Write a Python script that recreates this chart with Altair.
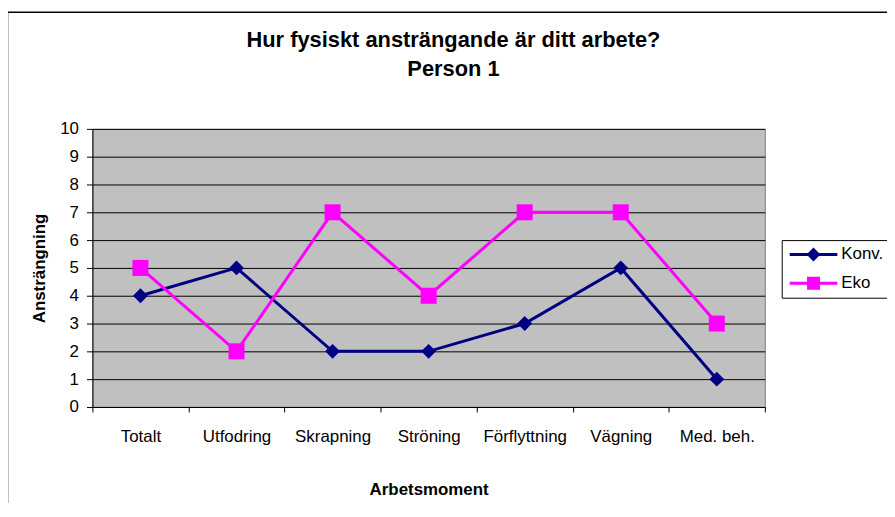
import altair as alt
import pandas as pd

categories = ["Totalt", "Utfodring", "Skrapning", "Ströning", "Förflyttning", "Vägning", "Med. beh."]
konv = [4, 5, 2, 2, 3, 5, 1]
eko = [5, 2, 7, 4, 7, 7, 3]
series = ["Konv.", "Eko"]
colors = ["#000080", "#FF00FF"]
marker_shapes = ["diamond", "square"]
marker_sizes = [225, 260]
y_ticks = list(range(0, 11))
title_lines = ["Hur fysiskt ansträngande är ditt arbete?", "Person 1"]

rows = []
for s, vals in zip(series, [konv, eko]):
    for c, v in zip(categories, vals):
        rows.append({"moment": c, "value": v, "series": s})
df = pd.DataFrame(rows)

FONT = "Liberation Sans"

# legend symbols: line with marker (custom SVG paths, unit = sqrt(size)/2)
konv_sym = "M-1,-0.23L6.385,-0.23L6.385,0.23L-1,0.23Z M2.692,-1.077L3.769,0L2.692,1.077L1.615,0Z"
eko_sym = "M-1,-0.23L6.385,-0.23L6.385,0.23L-1,0.23Z M1.692,-1L3.692,-1L3.692,1L1.692,1Z"

x_enc = alt.X(
    "moment:N",
    sort=categories,
    scale=alt.Scale(type="band", domain=categories, paddingInner=0, paddingOuter=0),
    axis=alt.Axis(
        title="Arbetsmoment", labelAngle=0, tickBand="extent", grid=False,
        labelFont=FONT, labelFontSize=17, labelColor="black", labelPadding=17,
        tickSize=5, tickColor="black", domainColor="black",
        titleFont=FONT, titleFontSize=17, titleFontWeight="bold", titleColor="black",
        titlePadding=37,
    ),
)
y_enc = alt.Y(
    "value:Q",
    scale=alt.Scale(domain=[0, 10], nice=False),
    axis=alt.Axis(
        title="Ansträngning", values=y_ticks, grid=True, gridColor="black", gridWidth=1,
        labelFont=FONT, labelFontSize=17, labelColor="black", labelPadding=8,
        tickSize=6, tickColor="black", domainColor="black",
        titleFont=FONT, titleFontSize=17, titleFontWeight="bold", titleColor="black",
        titlePadding=11,
    ),
)

border = alt.Chart(pd.DataFrame({"a": [0]})).mark_rect(
    filled=False, stroke="black", strokeWidth=1.5, fillOpacity=0
).encode(
    x=alt.value(-85.5), x2=alt.value(820), y=alt.value(-117.5), y2=alt.value(420)
)

base = alt.Chart(df)

series_layers = []
for s, shp, sz, col in zip(series, marker_shapes, marker_sizes, colors):
    sub = base.transform_filter(alt.datum.series == s)
    series_layers.append(sub.mark_line(strokeWidth=3, color=col).encode(x=x_enc, y=y_enc))
    series_layers.append(
        sub.mark_point(filled=True, opacity=1, shape=shp, size=sz, color=col).encode(x=x_enc, y=y_enc)
    )

legend_layer = base.transform_filter("false").mark_point(filled=True, opacity=1, size=169).encode(
    x=x_enc, y=y_enc,
    color=alt.Color("series:N", scale=alt.Scale(domain=series, range=colors),
                    legend=alt.Legend(title=None)),
    shape=alt.Shape("series:N", scale=alt.Scale(domain=series, range=[konv_sym, eko_sym]),
                    legend=alt.Legend(title=None)),
)

chart = alt.layer(border, *series_layers, legend_layer).properties(
    width=677,
    height=280,
    background="white",
    autosize=alt.AutoSizeParams(type="none"),
    padding={"left": 85, "top": 120, "right": 123, "bottom": 95},
    title=alt.TitleParams(
        text=title_lines, font=FONT, fontSize=22, fontWeight="bold", color="black",
        anchor="middle", frame="group", dx=25, offset=-70, lineHeight=29,
    ),
).configure_view(
    fill="#C0C0C0", stroke="#808080", strokeWidth=1
).configure_legend(
    orient="none", legendX=694, legendY=112,
    strokeColor="black", fillColor="white", padding=6, rowPadding=11,
    labelFont=FONT, labelFontSize=17, labelColor="black", labelOffset=37,
    cornerRadius=0, symbolStrokeWidth=0, symbolSize=169,
)

chart.save("out.html", embed_options={"renderer": "svg", "actions": False})
